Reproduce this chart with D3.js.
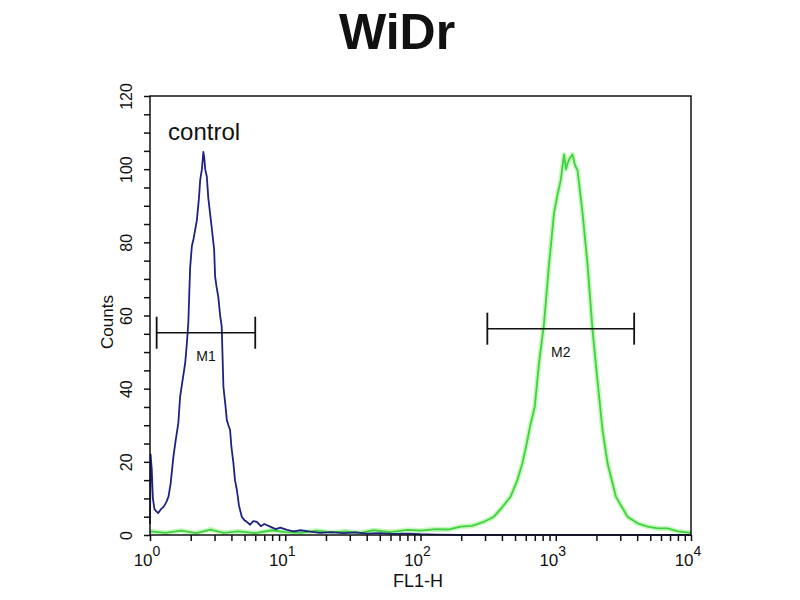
<!DOCTYPE html>
<html>
<head>
<meta charset="utf-8">
<script src="https://cdn.jsdelivr.net/npm/d3@7"></script>
<style>
  body { margin: 0; background: #fff; }
  text { font-family: "Liberation Sans", Arial, sans-serif; fill: #111; }
</style>
</head>
<body>
<div id="chart"></div>
<script>
// histogram: FL1-H channel value vs counts
var controlX = [1.00, 1.01, 1.03, 1.05, 1.08, 1.12, 1.15, 1.2, 1.26, 1.32, 1.37, 1.42, 1.49, 1.55, 1.62, 1.67, 1.72, 1.82, 1.87, 1.92, 1.98, 2.04, 2.1, 2.22, 2.3, 2.35, 2.42, 2.48, 2.52, 2.56, 2.63, 2.7, 2.82, 2.9, 2.98, 3.03, 3.1, 3.2, 3.3, 3.39, 3.49, 3.6, 3.7, 3.8, 3.91, 4.0, 4.14, 4.25, 4.39, 4.55, 4.77, 5.0, 5.2, 5.5, 5.8, 6.17, 6.6, 7.0, 7.74, 8.5, 9.2, 10.3, 11.5, 13, 15.3, 18, 22, 27, 33, 40, 50, 62, 80, 100, 130, 200, 400, 1000, 3000, 10000];
var controlCounts = [3, 22, 18, 10, 7, 6.4, 6, 7, 7.7, 9, 10.5, 14, 21.4, 26, 30.6, 37.8, 41, 47, 52, 58, 73, 79, 81, 86, 92, 97, 100, 104.7, 103, 100, 98, 92, 86, 82, 78, 70.6, 68, 65, 60, 57, 40.5, 36, 31.4, 30, 28.7, 24, 19.6, 15, 12.3, 8, 5, 4, 3.6, 2.8, 3.8, 3.6, 2.4, 3, 2.3, 1.6, 2, 1.4, 1.0, 1.3, 0.9, 0.6, 0.8, 0.5, 0.7, 0.4, 0.5, 0.3, 0.4, 0.2, 0.1, 0, 0, 0, 0, 0];

var sampleX = [1, 1.3, 1.7, 2.2, 2.8, 3.5, 4.5, 6, 8, 10, 13, 17, 22, 28, 36, 45, 60, 80, 100, 130, 160, 198, 240, 290, 349, 400, 464, 520, 567, 610, 653, 699, 752, 819, 892, 971, 1030, 1089, 1152, 1190, 1221, 1270, 1330, 1390, 1449, 1578, 1718, 1871, 2037, 2218, 2416, 2782, 3394, 4028, 4777, 5700, 6720, 8000, 10000];
var sampleCounts = [1, 0.6, 1.2, 0.5, 1.5, 0.6, 1.0, 0.5, 1.3, 0.8, 0.6, 1.2, 0.7, 1.0, 0.6, 1.3, 0.8, 1.4, 1.2, 1.6, 1.5, 2.3, 2.5, 3.5, 5, 7.5, 10.5, 15, 19.6, 25, 30.5, 35, 47, 57.8, 74, 88, 93, 97, 104, 100, 101.5, 103, 104, 101, 99.7, 88, 74, 56, 42, 28.7, 19.6, 10.5, 5, 3.2, 2.3, 1.8, 1.8, 1, 0.6];

// gate markers
var markerNames = ["M1", "M2"];
var markerStart = [1.12, 312];
var markerEnd = [6.0, 3800];
var markerLevel = [55.3, 56.4];

var yTicks = d3.range(0, 121, 5);
var yLabels = [0, 20, 40, 60, 80, 100, 120];
var decades = [1, 10, 100, 1000, 10000];
var decadeExp = ["0", "1", "2", "3", "4"];

var margin = {top: 96, right: 109, bottom: 65, left: 150},
  width = 800 - margin.left - margin.right,
  height = 600 - margin.top - margin.bottom;

var svg = d3.select("#chart")
.append("svg")
  .attr("width", 800)
  .attr("height", 600)
.append("g")
  .attr("transform", "translate(" + margin.left + "," + margin.top + ")");

var x = d3.scaleLog().domain([1, 10000]).range([0, width]);
var y = d3.scaleLinear().domain([0, 120]).range([height, 0]);

// title
svg.append("text")
  .attr("x", 397 - margin.left)
  .attr("y", 49 - margin.top)
  .attr("text-anchor", "middle")
  .attr("font-size", 50)
  .attr("font-weight", "bold")
  .text("WiDr");

// y axis with rotated labels
var yAxis = svg.append("g")
  .call(d3.axisLeft(y).tickValues(yTicks).tickSize(6)
    .tickFormat(function(d){ return yLabels.indexOf(d) >= 0 ? d : ""; }));
yAxis.select(".domain").remove();
yAxis.selectAll("line").attr("stroke", "#111").attr("stroke-width", 1.5);
yAxis.selectAll("text")
  .attr("x", 0).attr("y", -18).attr("dy", 0)
  .attr("text-anchor", "middle")
  .attr("transform", "rotate(-90)")
  .attr("font-size", 16)
  .style("font-family", "Liberation Sans, Arial, sans-serif")
  .style("fill", "#111");

// x axis: log minor ticks
var minor = [];
decades.slice(0, 4).forEach(function(d){ for (var i = 1; i < 10; i++) minor.push(d * i); });
minor.push(10000);
var xAxis = svg.append("g")
  .attr("transform", "translate(0," + height + ")")
  .call(d3.axisBottom(x).tickValues(minor).tickSize(6).tickFormat(""));
xAxis.select(".domain").remove();
xAxis.selectAll("line").attr("stroke", "#111").attr("stroke-width", 1.5);

var xl = svg.append("g").selectAll("text.dec")
  .data(decades)
  .enter()
  .append("text")
    .attr("class", "dec")
    .attr("x", function(d){ return x(d) - 3; })
    .attr("y", height + 31)
    .attr("text-anchor", "middle")
    .attr("font-size", 17);
xl.append("tspan").text("10");
xl.append("tspan")
  .attr("dy", -10)
  .attr("font-size", 14)
  .text(function(d, i){ return decadeExp[i]; });

// axis titles
svg.append("text")
  .attr("x", 418 - margin.left)
  .attr("y", height + 52)
  .attr("text-anchor", "middle")
  .attr("font-size", 18)
  .text("FL1-H");

svg.append("text")
  .attr("transform", "translate(" + (113 - margin.left) + "," + (322 - margin.top) + ") rotate(-90)")
  .attr("text-anchor", "middle")
  .attr("font-size", 17)
  .text("Counts");

// histograms
var line = d3.line()
  .x(function(d){ return x(d[0]); })
  .y(function(d){ return y(d[1]); });

var sample = d3.zip(sampleX, sampleCounts);
var control = d3.zip(controlX, controlCounts);

svg.append("path")
  .datum(sample)
  .attr("d", line)
  .attr("fill", "none")
  .attr("stroke", "#c8f5c0")
  .attr("stroke-width", 5)
  .attr("stroke-linejoin", "round");
svg.append("path")
  .datum(sample)
  .attr("d", line)
  .attr("fill", "none")
  .attr("stroke", "#3fd33f")
  .attr("stroke-width", 1.8)
  .attr("stroke-linejoin", "round");

svg.append("path")
  .datum(control)
  .attr("d", line)
  .attr("fill", "none")
  .attr("stroke", "#1f2280")
  .attr("stroke-width", 1.8)
  .attr("stroke-linejoin", "round");

svg.append("text")
  .attr("x", x(1.36))
  .attr("y", y(108))
  .attr("font-size", 24)
  .text("control");

// markers
var gates = svg.selectAll("g.gate")
  .data(markerNames)
  .enter()
  .append("g")
    .attr("class", "gate");

gates.append("line")
  .attr("x1", function(d, i){ return x(markerStart[i]); })
  .attr("x2", function(d, i){ return x(markerEnd[i]); })
  .attr("y1", function(d, i){ return y(markerLevel[i]); })
  .attr("y2", function(d, i){ return y(markerLevel[i]); })
  .attr("stroke", "#111").attr("stroke-width", 1.5);
gates.append("line")
  .attr("x1", function(d, i){ return x(markerStart[i]); })
  .attr("x2", function(d, i){ return x(markerStart[i]); })
  .attr("y1", function(d, i){ return y(markerLevel[i]) - 16; })
  .attr("y2", function(d, i){ return y(markerLevel[i]) + 16; })
  .attr("stroke", "#111").attr("stroke-width", 1.8);
gates.append("line")
  .attr("x1", function(d, i){ return x(markerEnd[i]); })
  .attr("x2", function(d, i){ return x(markerEnd[i]); })
  .attr("y1", function(d, i){ return y(markerLevel[i]) - 16; })
  .attr("y2", function(d, i){ return y(markerLevel[i]) + 16; })
  .attr("stroke", "#111").attr("stroke-width", 1.8);
gates.append("text")
  .attr("x", function(d, i){ return x(Math.sqrt(markerStart[i] * markerEnd[i])); })
  .attr("y", function(d, i){ return y(markerLevel[i]) + 28; })
  .attr("text-anchor", "middle")
  .attr("font-size", 14)
  .text(function(d){ return d; });

// frame
svg.append("rect")
  .attr("width", width)
  .attr("height", height)
  .attr("fill", "none")
  .attr("stroke", "#111")
  .attr("stroke-width", 1.5);
</script>
</body>
</html>
